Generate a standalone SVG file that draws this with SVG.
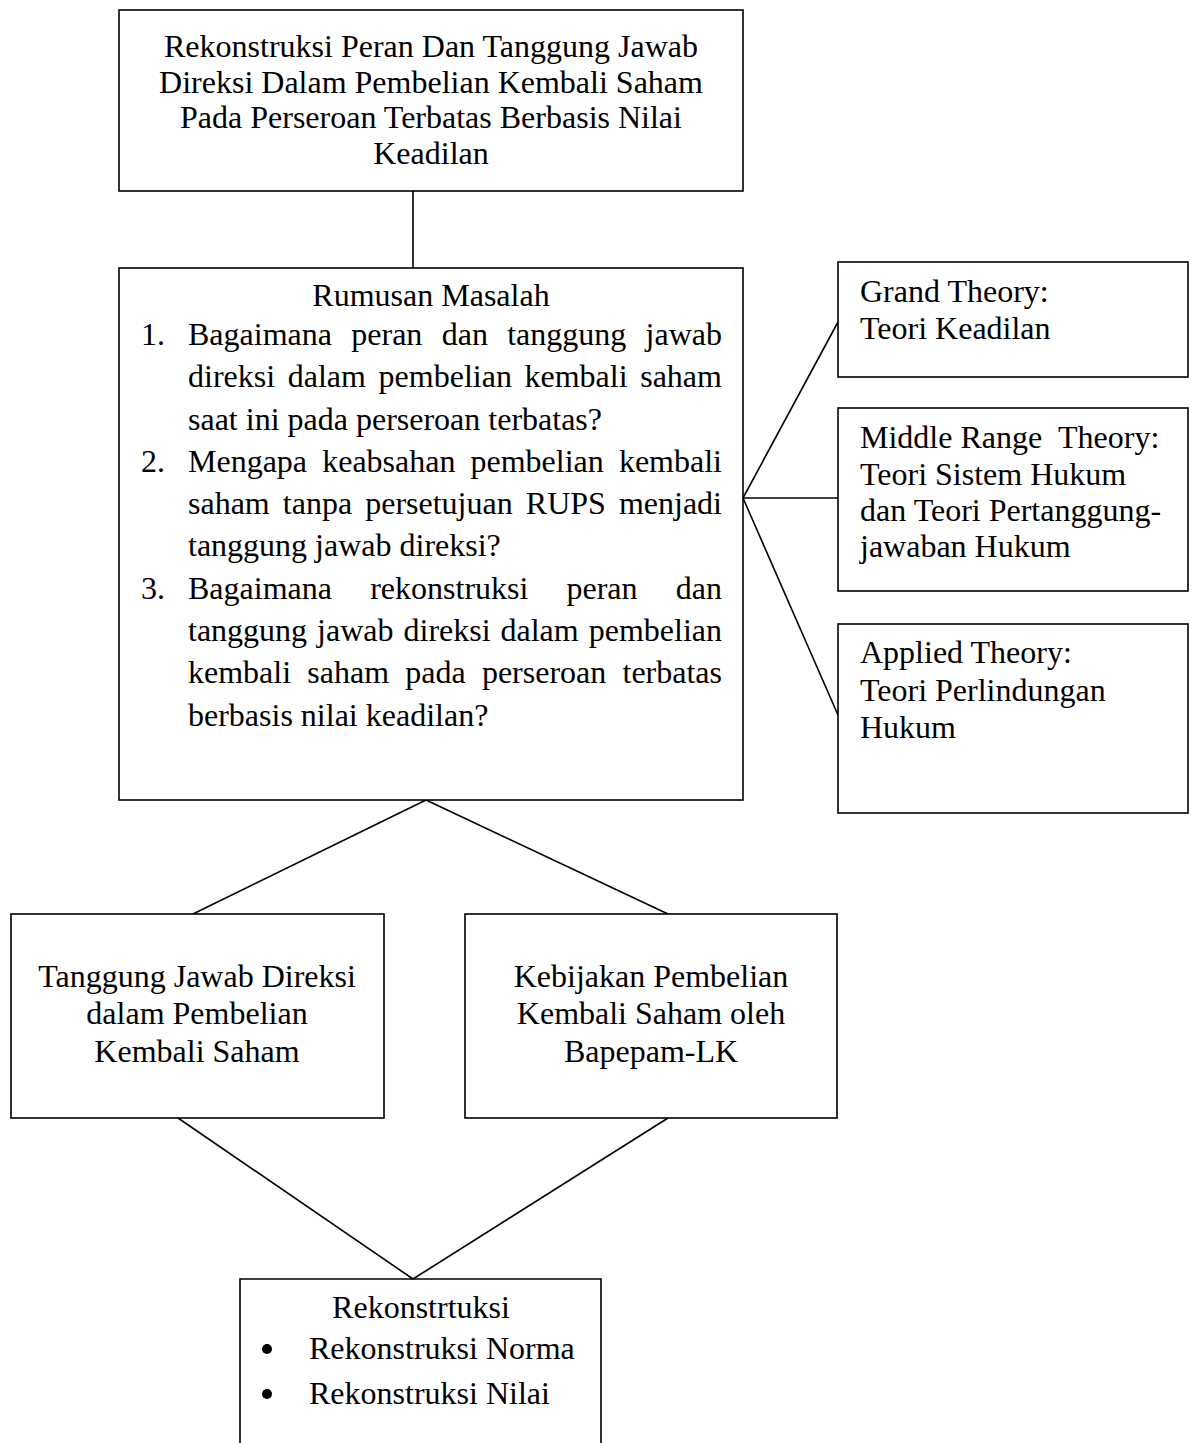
<svg xmlns="http://www.w3.org/2000/svg" width="1193" height="1443" viewBox="0 0 1193 1443">
<style>
.box{fill:#fff;stroke:#000;stroke-width:1.6}
.ln{stroke:#000;stroke-width:1.6;fill:none}
.t{font-family:"Liberation Serif","Times New Roman",serif;font-size:32px;fill:#000}
.c{text-anchor:middle}
</style>
<rect width="1193" height="1443" fill="#fff"/>
<g id="connectors">
<line class="ln" x1="413" y1="191" x2="413" y2="268"/>
<line class="ln" x1="743" y1="498" x2="838" y2="322"/>
<line class="ln" x1="743" y1="498" x2="838" y2="498"/>
<line class="ln" x1="743" y1="498" x2="838" y2="715"/>
<line class="ln" x1="426" y1="800" x2="193" y2="914"/>
<line class="ln" x1="426" y1="800" x2="668" y2="914"/>
<line class="ln" x1="178" y1="1118" x2="413" y2="1279"/>
<line class="ln" x1="668" y1="1118" x2="413" y2="1279"/>
</g>
<g id="title">
<rect class="box" x="119" y="10" width="624" height="181"/>
<text class="t c" x="431" y="57">Rekonstruksi Peran Dan Tanggung Jawab</text>
<text class="t c" x="431" y="93">Direksi Dalam Pembelian Kembali Saham</text>
<text class="t c" x="431" y="128">Pada Perseroan Terbatas Berbasis Nilai</text>
<text class="t c" x="431" y="164">Keadilan</text>
</g>
<g id="rumusan">
<rect class="box" x="119" y="268" width="624" height="532"/>
<text class="t c" x="431" y="306">Rumusan Masalah</text>
<text class="t" x="141" y="345">1.</text>
<text class="t" y="345"><tspan x="188">Bagaimana</tspan><tspan x="351.3">peran</tspan><tspan x="441.7">dan</tspan><tspan x="507.2">tanggung</tspan><tspan x="645.6">jawab</tspan></text>
<text class="t" y="387"><tspan x="188">direksi</tspan><tspan x="287.7">dalam</tspan><tspan x="378.6">pembelian</tspan><tspan x="524.5">kembali</tspan><tspan x="640.2">saham</tspan></text>
<text class="t" x="188" y="430">saat ini pada perseroan terbatas?</text>
<text class="t" x="141" y="472">2.</text>
<text class="t" y="472"><tspan x="188">Mengapa</tspan><tspan x="322.2">keabsahan</tspan><tspan x="470.5">pembelian</tspan><tspan x="618.9">kembali</tspan></text>
<text class="t" y="514"><tspan x="188">saham</tspan><tspan x="282.8">tanpa</tspan><tspan x="365.2">persetujuan</tspan><tspan x="525.8">RUPS</tspan><tspan x="618.9">menjadi</tspan></text>
<text class="t" x="188" y="556">tanggung jawab direksi?</text>
<text class="t" x="141" y="599">3.</text>
<text class="t" y="599"><tspan x="188">Bagaimana</tspan><tspan x="370.2">rekonstruksi</tspan><tspan x="566.5">peran</tspan><tspan x="675.8">dan</tspan></text>
<text class="t" y="641"><tspan x="188">tanggung</tspan><tspan x="317.1">jawab</tspan><tspan x="403.5">direksi</tspan><tspan x="500.5">dalam</tspan><tspan x="588.7">pembelian</tspan></text>
<text class="t" y="683"><tspan x="188">kembali</tspan><tspan x="307.3">saham</tspan><tspan x="405.3">pada</tspan><tspan x="481.9">perseroan</tspan><tspan x="622.5">terbatas</tspan></text>
<text class="t" x="188" y="726">berbasis nilai keadilan?</text>
</g>
<g id="grand">
<rect class="box" x="838" y="262" width="350" height="115"/>
<text class="t" x="860" y="302">Grand Theory:</text>
<text class="t" x="860" y="339">Teori Keadilan</text>
</g>
<g id="middle">
<rect class="box" x="838" y="408" width="350" height="183"/>
<text class="t" y="448"><tspan x="860">Middle Range</tspan><tspan x="1058">Theory:</tspan></text>
<text class="t" x="860" y="485">Teori Sistem Hukum</text>
<text class="t" x="860" y="521">dan Teori Pertanggung-</text>
<text class="t" x="860" y="557">jawaban Hukum</text>
</g>
<g id="applied">
<rect class="box" x="838" y="624" width="350" height="189"/>
<text class="t" x="860" y="663">Applied Theory:</text>
<text class="t" x="860" y="701">Teori Perlindungan</text>
<text class="t" x="860" y="738">Hukum</text>
</g>
<g id="tanggung">
<rect class="box" x="11" y="914" width="373" height="204"/>
<text class="t c" x="197" y="987">Tanggung Jawab Direksi</text>
<text class="t c" x="197" y="1024">dalam Pembelian</text>
<text class="t c" x="197" y="1062">Kembali Saham</text>
</g>
<g id="kebijakan">
<rect class="box" x="465" y="914" width="372" height="204"/>
<text class="t c" x="651" y="987">Kebijakan Pembelian</text>
<text class="t c" x="651" y="1024">Kembali Saham oleh</text>
<text class="t c" x="651" y="1062">Bapepam-LK</text>
</g>
<g id="rekonstruksi">
<path class="ln" d="M240 1460 V1279 H601 V1460"/>
<text class="t c" x="421" y="1318">Rekonstrtuksi</text>
<circle cx="267" cy="1349" r="5"/>
<text class="t" x="309" y="1359">Rekonstruksi Norma</text>
<circle cx="267" cy="1394" r="5"/>
<text class="t" x="309" y="1404">Rekonstruksi Nilai</text>
</g>
</svg>
